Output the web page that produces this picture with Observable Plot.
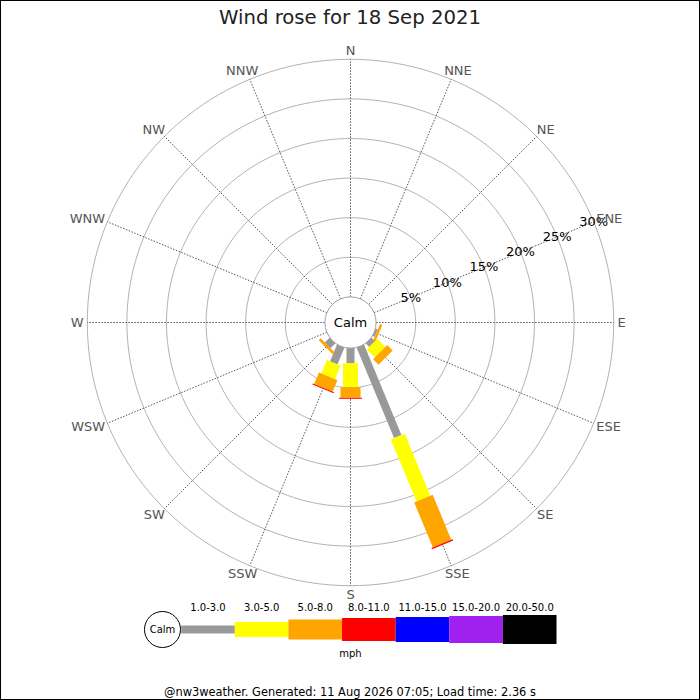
<!DOCTYPE html>
<html>
<head>
<meta charset="utf-8">
<script src="https://cdn.jsdelivr.net/npm/d3@7"></script>
<script src="https://cdn.jsdelivr.net/npm/@observablehq/plot@0.6"></script>
<style>
  body { margin: 0; background: #fff; font-family: "DejaVu Sans", sans-serif; }
  #wrap { position: relative; width: 700px; height: 700px; overflow: hidden; background: #fff; }
  #border { position: absolute; left: 0; top: 0; width: 700px; height: 700px; box-sizing: border-box; border: 1px solid #000; pointer-events: none; }
  #title { position: absolute; left: 0; top: 0; width: 700px; height: 35px; line-height: 35px; text-align: center; font-size: 19.7px; color: #222; }
  #rose { position: absolute; left: 0; top: 35px; }
  #legend { position: absolute; left: 0; top: 600px; }
  #footer { position: absolute; left: 0; top: 685px; width: 700px; line-height: 14px; text-align: center; font-size: 11.4px; color: #000; }
</style>
</head>
<body>
<div id="wrap">
  <div id="title">Wind rose for 18 Sep 2021</div>
  <div id="rose"></div>
  <div id="legend"></div>
  <div id="footer">@nw3weather. Generated: 11 Aug 2026 07:05; Load time: 2.36 s</div>
  <div id="border"></div>
</div>
<script>
// ---------- data ----------
const directions = ["N","NNE","NE","ENE","E","ESE","SE","SSE","S","SSW","SW","WSW","W","WNW","NW","NNW"];
const speedBins = ["1.0-3.0","3.0-5.0","5.0-8.0","8.0-11.0","11.0-15.0","15.0-20.0","20.0-50.0"];
const speedUnit = "mph";
const calmLabel = "Calm";
const ringTicks = [5, 10, 15, 20, 25, 30];
// percentage of time per direction for each speed bin (order follows `directions`)
const pct_1_3   = [0,0,0,0,0,0.28,0.62,12.36,1.90,2.30,0.85,0,0,0,0,0];
const pct_3_5   = [0,0,0,0,0,0,   1.45, 8.48,3.03,1.83,0,   0,0,0,0,0];
const pct_5_8   = [0,0,0,0,0,0.32,0.96, 6.16,1.34,1.58,0.34,0,0,0,0,0];
const pct_8_11  = [0,0,0,0,0,0,   0,    0.15,0.13,0.13,0,   0,0,0,0,0];
const pct_11_15 = [0,0,0,0,0,0,0,0,0,0,0,0,0,0,0,0];
const pct_15_20 = [0,0,0,0,0,0,0,0,0,0,0,0,0,0,0,0];
const pct_20_50 = [0,0,0,0,0,0,0,0,0,0,0,0,0,0,0,0];

// ---------- styles ----------
const binColors = ["#999999","#ffff00","#ffa500","#ff0000","#0000ff","#a020f0","#000000"];
const binWidths = [8, 15, 20, 23, 25, 27, 29];
const pxPerPct = 7.92;          // pixel length of 1 %
const calmPx = 25.6;            // calm circle radius in px
const labelPx = 267;            // direction label inner radius in px
const labelFont = 13;

// ---------- geometry ----------
const series = [pct_1_3, pct_3_5, pct_5_8, pct_8_11, pct_11_15, pct_15_20, pct_20_50];
const calmOff = calmPx / pxPerPct;
const rad = a => a * Math.PI / 180;
const bearing = i => i * 360 / directions.length;

const segs = [];
directions.forEach((d, i) => {
  const a = rad(bearing(i));
  let s = calmOff;
  series.forEach((vals, b) => {
    const v = vals[i];
    if (v > 0) {
      const e = s + v;
      segs.push({dir: d, bin: speedBins[b], w: binWidths[b],
        x1: s * Math.sin(a), y1: s * Math.cos(a), x2: e * Math.sin(a), y2: e * Math.cos(a)});
      s = e;
    }
  });
});

const ringPts = [];
ringTicks.forEach(t => {
  const r = calmOff + t;
  for (let k = 0; k < 180; k++) {
    const a = rad(k * 2);
    ringPts.push({ring: t, x: r * Math.sin(a), y: r * Math.cos(a)});
  }
});

const spokes = directions.map((d, i) => {
  const a = rad(bearing(i));
  const r0 = calmOff, r1 = calmOff + ringTicks[ringTicks.length - 1];
  return {dir: d, x1: r0 * Math.sin(a), y1: r0 * Math.cos(a), x2: r1 * Math.sin(a), y2: r1 * Math.cos(a)};
});

// direction labels: placed just outside the outer ring, pushed out by half their size
const ctx = document.createElement("canvas").getContext("2d");
ctx.font = labelFont + "px 'DejaVu Sans'";
const labR = labelPx / pxPerPct;
const dirLabels = directions.map((d, i) => {
  const a = rad(bearing(i));
  const hw = ctx.measureText(d).width / 2 / pxPerPct;
  const hh = 5 / pxPerPct;
  return {dir: d, x: labR * Math.sin(a) + hw * Math.sin(a), y: labR * Math.cos(a) + hh * Math.cos(a)};
});

const tickAngle = rad(bearing(directions.indexOf("ENE")));
const tickLabels = ringTicks.map(t => ({label: t + "%", x: (calmOff + t) * Math.sin(tickAngle), y: (calmOff + t) * Math.cos(tickAngle)}));

const W = 700, H = 575, cx = 350, cy = 287;

const rose = Plot.plot({
  width: W, height: H,
  margin: 0,
  style: {background: "transparent", fontFamily: "DejaVu Sans"},
  x: {domain: [-cx / pxPerPct, (W - cx) / pxPerPct], axis: null},
  y: {domain: [-(H - cy) / pxPerPct, cy / pxPerPct], axis: null},
  color: {domain: speedBins, range: binColors},
  marks: [
    Plot.line(ringPts, {x: "x", y: "y", z: "ring", curve: "linear-closed", stroke: "#b3b3b3", strokeWidth: 1}),
    Plot.link(spokes, {x1: "x1", y1: "y1", x2: "x2", y2: "y2", stroke: "#444", strokeWidth: 0.9, strokeDasharray: "1.5,1.5"}),
    Plot.link(segs, {x1: "x1", y1: "y1", x2: "x2", y2: "y2", stroke: "bin", strokeWidth: "w", strokeLinecap: "butt"}),
    Plot.dot([{x: 0, y: 0}], {x: "x", y: "y", r: calmPx, fill: "white", stroke: "#a0a0a0", strokeWidth: 1}),
    Plot.text([{x: 0, y: 0, t: calmLabel}], {x: "x", y: "y", text: "t", fontSize: 13, fill: "#000"}),
    Plot.text(tickLabels, {x: "x", y: "y", text: "label", fontSize: 13, fill: "#000"}),
    Plot.text(dirLabels, {x: "x", y: "y", text: "dir", fontSize: labelFont, fill: "#555"})
  ]
});
document.getElementById("rose").appendChild(rose);

// ---------- legend ----------
const legendBins = speedBins.map((b, i) => ({bin: b, i, w: binWidths[i]}));
const legend = Plot.plot({
  width: 700, height: 70,
  margin: 0,
  style: {background: "transparent", fontFamily: "DejaVu Sans"},
  x: {domain: [0, speedBins.length], range: [180.7, 556], axis: null},
  y: {domain: [-1, 1], range: [58, 0], axis: null},
  color: {domain: speedBins, range: binColors},
  marks: [
    Plot.link(legendBins, {x1: "i", x2: d => d.i + 1, y1: () => 0, y2: () => 0, stroke: "bin", strokeWidth: "w"}),
    Plot.text(legendBins, {x: d => d.i + 0.5, y: () => 0, text: "bin", dy: -22, fontSize: 10, fill: "#000"}),
    Plot.dot([{x: 0, y: 0}], {x: "x", y: "y", dx: -18.7, r: 18, fill: "white", stroke: "#000", strokeWidth: 1}),
    Plot.text([{x: 0, y: 0, t: calmLabel}], {x: "x", y: "y", dx: -18.7, text: "t", fontSize: 10, fill: "#000"}),
    Plot.text([speedUnit], {text: d => d, frameAnchor: "middle", dy: 18, fontSize: 10, fill: "#000"})
  ]
});
document.getElementById("legend").appendChild(legend);
</script>
</body>
</html>
